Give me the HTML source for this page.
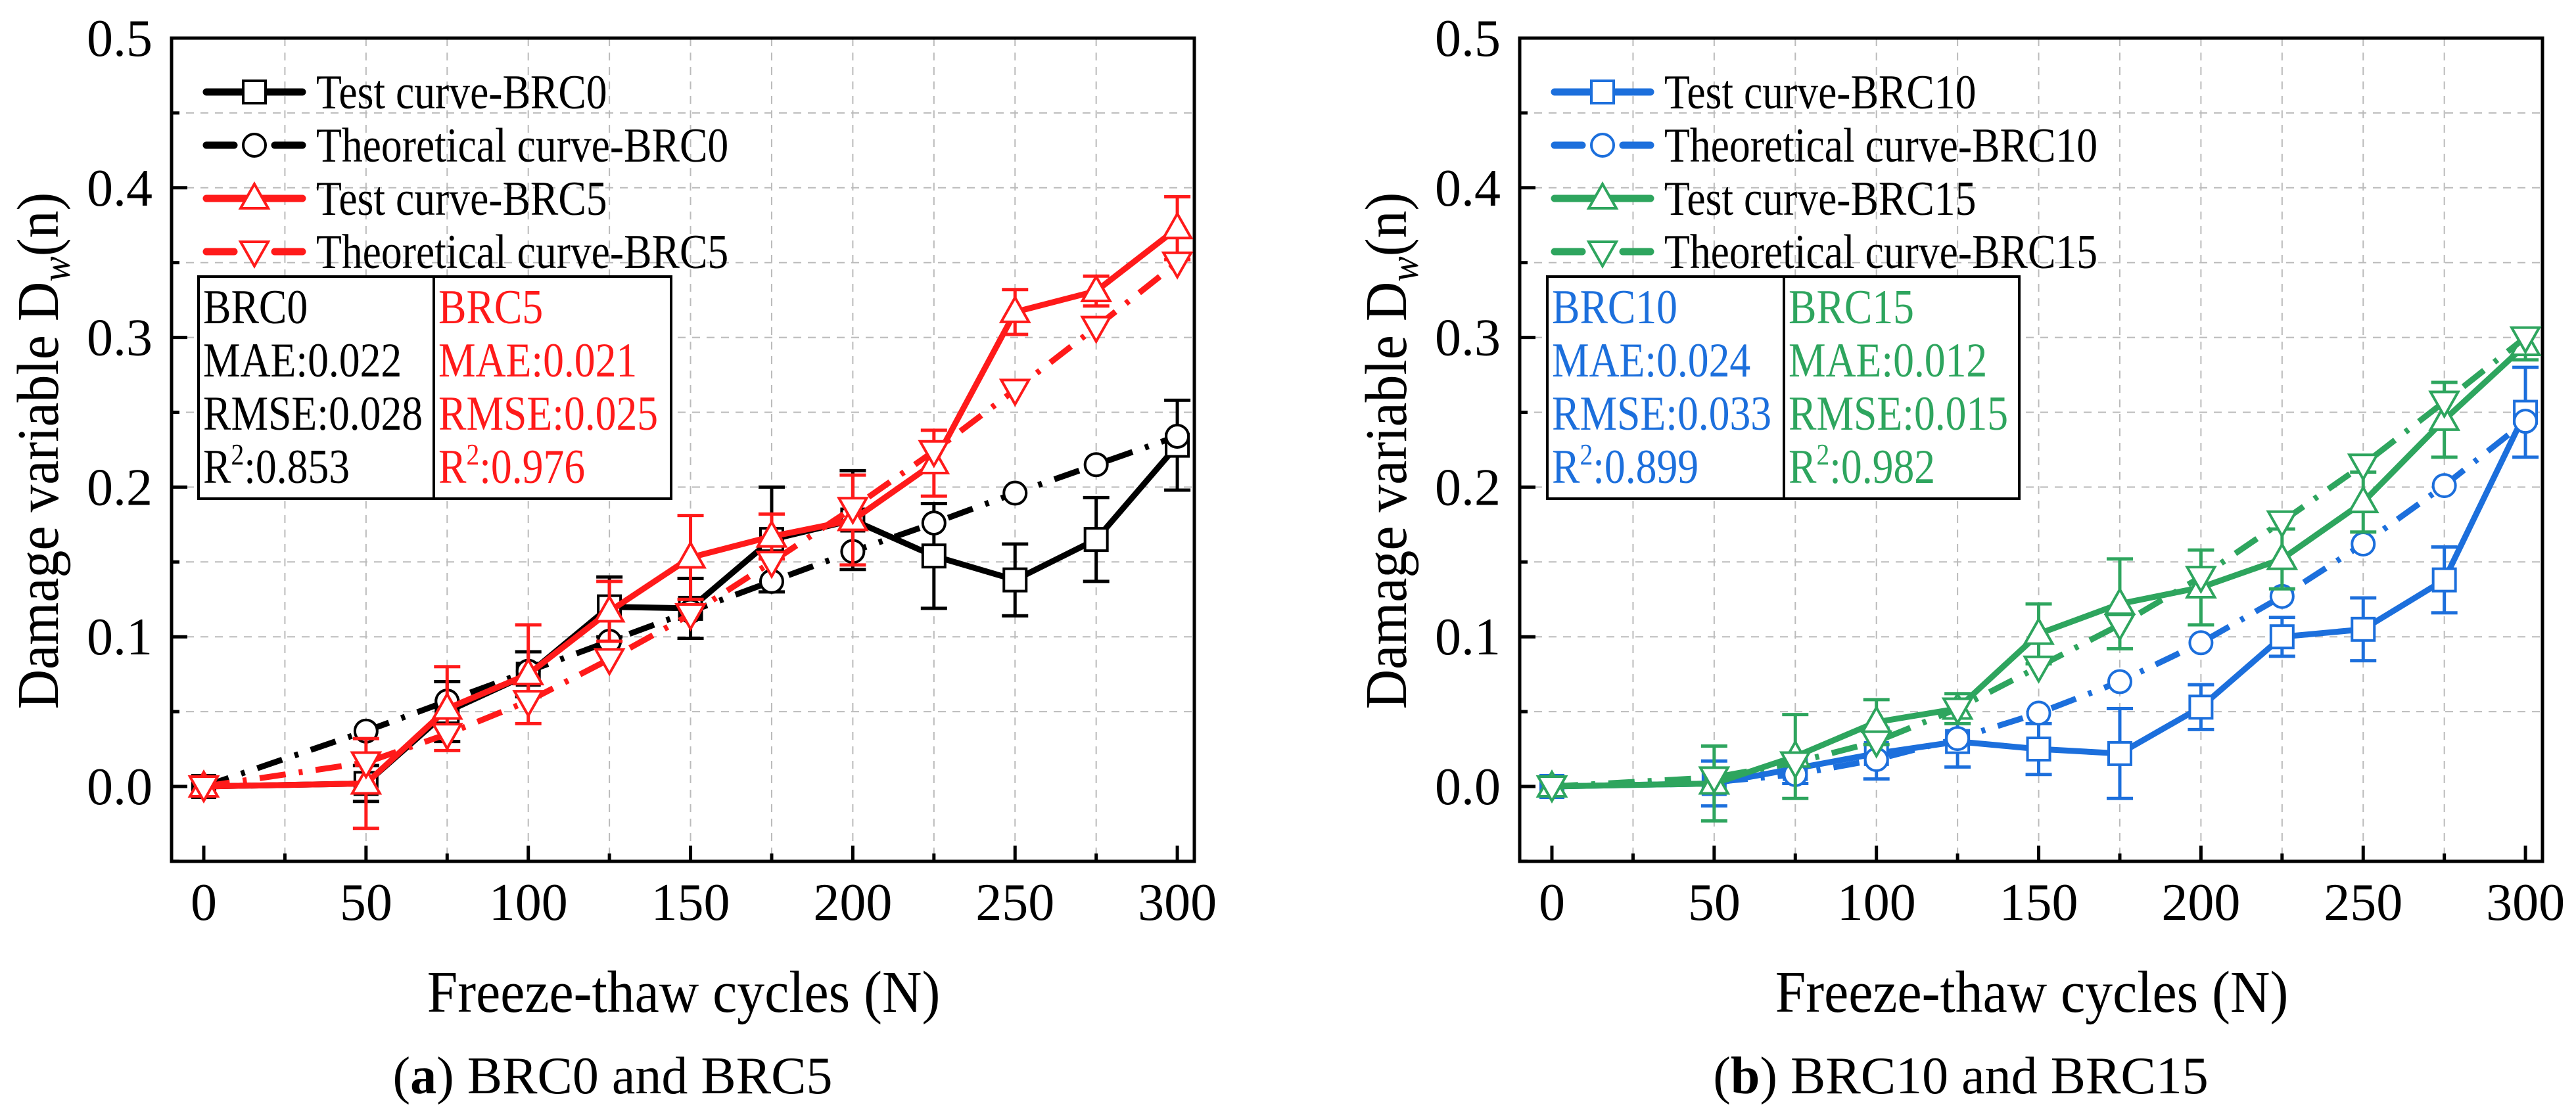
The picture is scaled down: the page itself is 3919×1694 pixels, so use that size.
<!DOCTYPE html>
<html><head><meta charset="utf-8"><style>
html,body{margin:0;padding:0;background:#fff;}
svg{display:block;font-family:"Liberation Serif",serif;}
</style></head><body>
<svg id="chart" width="3919" height="1694" viewBox="0 0 3919 1694" xmlns="http://www.w3.org/2000/svg"></svg>
<script>
const cycles=[0,50,75,100,125,150,175,200,225,250,275,300];
const brc0Test=[0,0.002,0.05,0.075,0.12,0.119,0.165,0.178,0.154,0.138,0.165,0.228];
const brc0Err=[0,0.012,0.02,0.015,0.02,0.02,0.035,0.033,0.035,0.024,0.028,0.03];
const brc0Theory=[0,0.037,0.057,0.077,0.097,0.117,0.137,0.157,0.176,0.196,0.215,0.234];
const brc5Test=[0,0.002,0.052,0.075,0.117,0.153,0.167,0.178,0.216,0.317,0.331,0.373];
const brc5Err=[0,0.03,0.028,0.033,0.02,0.028,0.015,0.03,0.022,0.015,0.01,0.021];
const brc5Theory=[0,0.016,0.035,0.057,0.085,0.115,0.15,0.186,0.224,0.265,0.307,0.35];
const brc10Test=[0,0.002,0.012,0.022,0.03,0.025,0.022,0.053,0.1,0.105,0.138,0.25];
const brc10Err=[0,0.015,0.01,0.017,0.017,0.017,0.03,0.015,0.013,0.021,0.022,0.03];
const brc10Theory=[0,0.003,0.008,0.018,0.032,0.049,0.07,0.096,0.127,0.162,0.201,0.244];
const brc15Test=[0,0.002,0.02,0.043,0.052,0.102,0.122,0.133,0.152,0.19,0.245,0.295];
const brc15Err=[0,0.025,0.028,0.015,0.01,0.02,0.03,0.025,0.02,0.02,0.025,0.01];
const brc15Theory=[0,0.006,0.016,0.03,0.052,0.08,0.108,0.14,0.177,0.215,0.257,0.3];
const xTicks=[0,50,100,150,200,250,300];
const yTicks=[0,0.1,0.2,0.3,0.4,0.5];
const yTickLabels=["0.0","0.1","0.2","0.3","0.4","0.5"];

const svg=document.getElementById('chart');
const NS='http://www.w3.org/2000/svg';
function mk(tag,attrs,parent){const e=document.createElementNS(NS,tag);for(const k in attrs)e.setAttribute(k,attrs[k]);(parent||svg).appendChild(e);return e;}
function yv(v){return 1197-v*2278;}
const RED='#ff1a1a',BLUE='#1c6fdc',GREEN='#2ea55e';
function ntext(parent,x,y,size,fill,sx){const g=mk('g',{transform:`translate(${x},${y}) scale(${sx},1)`},parent);return mk('text',{x:0,y:0,'font-size':size,fill:fill},g);}

function marker(g,type,cx,cy,color){
  let e;
  if(type==='square'){e=mk('rect',{x:cx-17,y:cy-17,width:34,height:34,fill:'#fff',stroke:color,'stroke-width':4},g);}
  else if(type==='circle'){e=mk('circle',{cx:cx,cy:cy,r:17,fill:'#fff',stroke:color,'stroke-width':4},g);}
  else if(type==='up'){e=mk('polygon',{points:`${cx},${cy-22} ${cx-21},${cy+15} ${cx+21},${cy+15}`,fill:'#fff',stroke:color,'stroke-width':4},g);}
  else {e=mk('polygon',{points:`${cx},${cy+22} ${cx-21},${cy-15} ${cx+21},${cy-15}`,fill:'#fff',stroke:color,'stroke-width':4},g);}
  
  
}

function panel(dx,series,stats,caption){
  const xv=n=>dx+310+n*4.937;
  const pg=mk('g',{});
  
  
  for(let n=25;n<300;n+=25){const l=mk('line',{x1:xv(n),x2:xv(n),y1:58,y2:1311,stroke:'#bbb','stroke-width':2,'stroke-dasharray':'12,10'},pg);}
  for(let v=0.05;v<0.5;v+=0.05){const l=mk('line',{x1:dx+261,x2:dx+1817,y1:yv(v),y2:yv(v),stroke:'#bbb','stroke-width':2,'stroke-dasharray':'12,10'},pg);}
  const fr=mk('rect',{x:dx+261,y:58,width:1556,height:1253,fill:'none',stroke:'#000','stroke-width':5},pg);
  
  for(let n=0;n<=300;n+=25){const major=n%50===0;mk('line',{x1:xv(n),x2:xv(n),y1:1311,y2:1311-(major?24:12),stroke:'#000','stroke-width':5},pg);}
  for(let v=-0.05;v<=0.5001;v+=0.05){const major=Math.abs(Math.round(v*10)-v*10)<1e-6;mk('line',{x1:dx+261,x2:dx+261+(major?24:12),y1:yv(v),y2:yv(v),stroke:'#000','stroke-width':5},pg);}
  xTicks.forEach(n=>{const t=mk('text',{x:xv(n),y:1400,'font-size':80,'text-anchor':'middle'},pg);t.textContent=n;});
  yTicks.forEach((v,i)=>{const t=mk('text',{x:dx+232,y:yv(v)+27,'font-size':80,'text-anchor':'end'},pg);t.textContent=yTickLabels[i];});
  const xg=mk('g',{transform:`translate(${dx+1040},1540) scale(0.93,1)`},pg);
  const xt=mk('text',{x:0,y:0,'font-size':90,'text-anchor':'middle'},xg);xt.textContent='Freeze-thaw cycles (N)';
  
  const yt=mk('text',{x:0,y:0,'font-size':90,'text-anchor':'middle',transform:`translate(${dx+88},686) rotate(-90) scale(0.93,1)`},pg);
  
  yt.innerHTML='Damage variable D<tspan font-size="62" font-style="italic" dy="18">w</tspan><tspan dy="-18">(n)</tspan>';
  const cp=mk('text',{x:dx+932,y:1664,'font-size':80,'text-anchor':'middle'},pg);
  
  cp.innerHTML='(<tspan font-weight="bold">'+caption[0]+'</tspan>) '+caption[1];
  series.forEach(s=>{
    const g=mk('g',{},pg);
    
    
    if(s.err){cycles.forEach((n,i)=>{if(!s.err[i])return;const x=xv(n),y1=yv(s.vals[i]-s.err[i]),y2=yv(s.vals[i]+s.err[i]);
      mk('line',{x1:x,x2:x,y1:y1,y2:y2,stroke:s.color,'stroke-width':5},g);
      mk('line',{x1:x-20,x2:x+20,y1:y1,y2:y1,stroke:s.color,'stroke-width':5},g);
      mk('line',{x1:x-20,x2:x+20,y1:y2,y2:y2,stroke:s.color,'stroke-width':5},g);});}
    const pts=cycles.map((n,i)=>xv(n)+','+yv(s.vals[i])).join(' ');
    const pl=mk('polyline',{points:pts,fill:'none',stroke:s.color,'stroke-width':9,'stroke-linejoin':'round','stroke-dasharray':s.dash?'40,20,6,20':'none'},g);
    
    cycles.forEach((n,i)=>marker(g,s.marker,xv(n),yv(s.vals[i]),s.color));
  });
  const lg=mk('g',{},pg);
  
  series.forEach((s,i)=>{const y=140+i*81;
    const le=mk('g',{},lg);
    if(s.dash){mk('line',{x1:dx+314,x2:dx+356,y1:y,y2:y,stroke:s.color,'stroke-width':11,'stroke-linecap':'round'},le);
      mk('line',{x1:dx+418,x2:dx+460,y1:y,y2:y,stroke:s.color,'stroke-width':11,'stroke-linecap':'round'},le);}
    else mk('line',{x1:dx+314,x2:dx+460,y1:y,y2:y,stroke:s.color,'stroke-width':11,'stroke-linecap':'round'},le);
    marker(le,s.marker,dx+387,y,s.color);
    const t=ntext(le,dx+481,y+25,74,'#000',0.86);t.textContent=s.label;});
  const sb=mk('g',{},pg);
  const bx=dx+302+(stats.off||0);
  mk('rect',{x:bx,y:421,width:stats.w,height:338,fill:'#fff',stroke:'#000','stroke-width':4},sb);
  mk('line',{x1:bx+stats.div,x2:bx+stats.div,y1:421,y2:759,stroke:'#000','stroke-width':4},sb);
  stats.cols.forEach((c,ci)=>{const x=bx+7+(ci?stats.div:0);
    c.lines.forEach((ln,li)=>{const t=ntext(sb,x,492+li*81,74,c.color,0.86);
      
      if(ln.startsWith('R2')){t.innerHTML='R<tspan font-size="46" dy="-28">2</tspan><tspan dy="28">'+ln.slice(2)+'</tspan>';}else t.textContent=ln;});});
}

panel(0,[
 {name:'test-brc0',label:'Test curve-BRC0',vals:brc0Test,err:brc0Err,color:'#000',marker:'square',dash:false},
 {name:'theory-brc0',label:'Theoretical curve-BRC0',vals:brc0Theory,color:'#000',marker:'circle',dash:true},
 {name:'test-brc5',label:'Test curve-BRC5',vals:brc5Test,err:brc5Err,color:RED,marker:'up',dash:false},
 {name:'theory-brc5',label:'Theoretical curve-BRC5',vals:brc5Theory,color:RED,marker:'down',dash:true}
],{w:719,div:358,cols:[{color:'#000',lines:['BRC0','MAE:0.022','RMSE:0.028','R2:0.853']},{color:RED,lines:['BRC5','MAE:0.021','RMSE:0.025','R2:0.976']}]},['a','BRC0 and BRC5']);

panel(2051,[
 {name:'test-brc10',label:'Test curve-BRC10',vals:brc10Test,err:brc10Err,color:BLUE,marker:'square',dash:false},
 {name:'theory-brc10',label:'Theoretical curve-BRC10',vals:brc10Theory,color:BLUE,marker:'circle',dash:true},
 {name:'test-brc15',label:'Test curve-BRC15',vals:brc15Test,err:brc15Err,color:GREEN,marker:'up',dash:false},
 {name:'theory-brc15',label:'Theoretical curve-BRC15',vals:brc15Theory,color:GREEN,marker:'down',dash:true}
],{w:718,div:360,off:1,cols:[{color:BLUE,lines:['BRC10','MAE:0.024','RMSE:0.033','R2:0.899']},{color:GREEN,lines:['BRC15','MAE:0.012','RMSE:0.015','R2:0.982']}]},['b','BRC10 and BRC15']);
</script>
</body></html>
